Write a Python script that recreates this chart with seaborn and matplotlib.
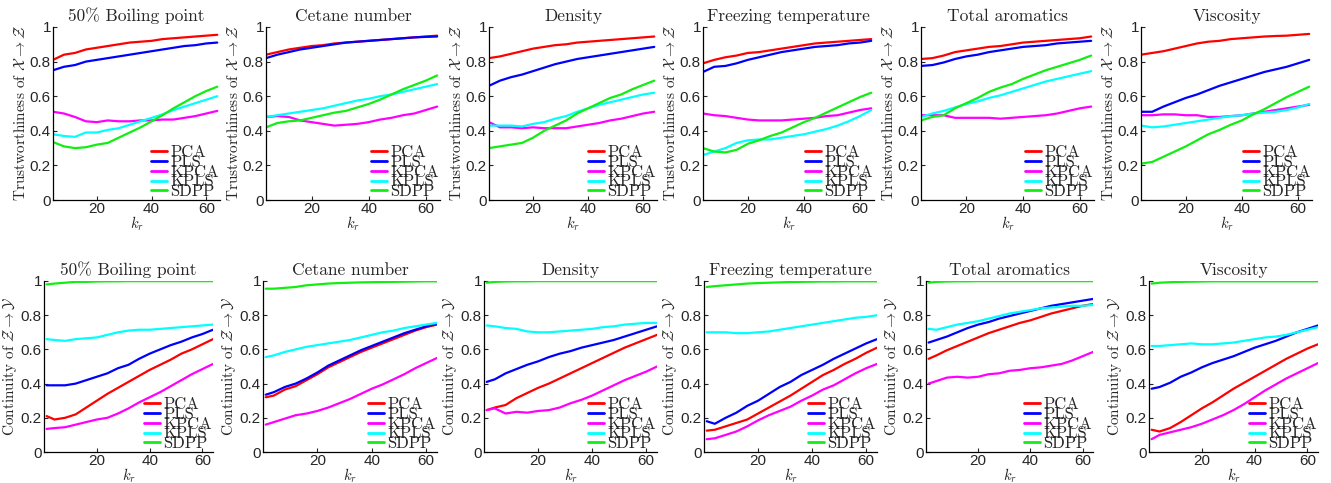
import pandas as pd
import matplotlib
matplotlib.use("Agg")
import matplotlib.pyplot as plt
import seaborn as sns

methods = ["PCA", "PLS", "KPCA", "KPLS", "SDPP"]
colors = ["#ff0000", "#0000ff", "#ff00ff", "#00ffff", "#11ee11"]
titles = ["50% Boiling point", "Cetane number", "Density",
          "Freezing temperature", "Total aromatics", "Viscosity"]

# neighbourhood sizes k_r
top_k = [4, 8, 12, 16, 20, 24, 28, 32, 36, 40, 44, 48, 52, 56, 60, 64]
bottom_k = [1, 4, 8, 12, 16, 20, 24, 28, 32, 36, 40, 44, 48, 52, 56, 60, 64]

# trustworthiness X -> Z
tw_boiling = {
    "PCA":  [0.81, 0.84, 0.85, 0.87, 0.88, 0.89, 0.90, 0.91, 0.915, 0.92, 0.93, 0.935, 0.94, 0.945, 0.95, 0.955],
    "PLS":  [0.75, 0.77, 0.78, 0.80, 0.81, 0.82, 0.83, 0.84, 0.85, 0.86, 0.87, 0.88, 0.89, 0.895, 0.905, 0.91],
    "KPCA": [0.51, 0.50, 0.48, 0.455, 0.45, 0.46, 0.455, 0.455, 0.46, 0.46, 0.465, 0.465, 0.475, 0.485, 0.50, 0.515],
    "KPLS": [0.38, 0.37, 0.365, 0.39, 0.39, 0.405, 0.415, 0.435, 0.455, 0.475, 0.495, 0.52, 0.54, 0.56, 0.58, 0.60],
    "SDPP": [0.335, 0.31, 0.30, 0.305, 0.32, 0.33, 0.36, 0.39, 0.42, 0.455, 0.49, 0.53, 0.565, 0.60, 0.63, 0.655],
}
tw_cetane = {
    "PCA":  [0.84, 0.855, 0.87, 0.88, 0.89, 0.895, 0.905, 0.91, 0.915, 0.92, 0.925, 0.93, 0.935, 0.94, 0.945, 0.95],
    "PLS":  [0.82, 0.84, 0.855, 0.87, 0.88, 0.89, 0.90, 0.91, 0.915, 0.92, 0.925, 0.93, 0.935, 0.94, 0.943, 0.945],
    "KPCA": [0.48, 0.485, 0.48, 0.46, 0.45, 0.44, 0.43, 0.435, 0.44, 0.45, 0.465, 0.475, 0.49, 0.50, 0.52, 0.54],
    "KPLS": [0.48, 0.49, 0.50, 0.51, 0.52, 0.53, 0.545, 0.56, 0.575, 0.585, 0.60, 0.61, 0.625, 0.64, 0.655, 0.67],
    "SDPP": [0.42, 0.445, 0.455, 0.46, 0.475, 0.49, 0.505, 0.515, 0.535, 0.555, 0.58, 0.61, 0.64, 0.665, 0.69, 0.72],
}
tw_density = {
    "PCA":  [0.82, 0.83, 0.845, 0.86, 0.875, 0.885, 0.895, 0.90, 0.91, 0.915, 0.92, 0.925, 0.93, 0.935, 0.94, 0.945],
    "PLS":  [0.66, 0.69, 0.71, 0.725, 0.745, 0.765, 0.785, 0.80, 0.815, 0.825, 0.835, 0.845, 0.855, 0.865, 0.875, 0.885],
    "KPCA": [0.45, 0.42, 0.42, 0.415, 0.42, 0.415, 0.415, 0.415, 0.425, 0.435, 0.445, 0.46, 0.47, 0.485, 0.50, 0.51],
    "KPLS": [0.43, 0.43, 0.43, 0.425, 0.44, 0.45, 0.47, 0.485, 0.51, 0.53, 0.55, 0.565, 0.58, 0.595, 0.61, 0.62],
    "SDPP": [0.30, 0.31, 0.32, 0.33, 0.36, 0.40, 0.43, 0.46, 0.50, 0.53, 0.56, 0.59, 0.61, 0.64, 0.665, 0.69],
}
tw_freezing = {
    "PCA":  [0.79, 0.81, 0.825, 0.835, 0.85, 0.855, 0.865, 0.875, 0.885, 0.895, 0.905, 0.91, 0.915, 0.92, 0.925, 0.93],
    "PLS":  [0.74, 0.77, 0.775, 0.79, 0.81, 0.825, 0.84, 0.855, 0.865, 0.875, 0.885, 0.89, 0.895, 0.905, 0.91, 0.92],
    "KPCA": [0.50, 0.49, 0.485, 0.475, 0.465, 0.46, 0.46, 0.46, 0.465, 0.47, 0.475, 0.485, 0.49, 0.505, 0.52, 0.53],
    "KPLS": [0.26, 0.28, 0.30, 0.33, 0.345, 0.35, 0.35, 0.36, 0.37, 0.38, 0.395, 0.41, 0.43, 0.455, 0.485, 0.52],
    "SDPP": [0.30, 0.28, 0.275, 0.29, 0.325, 0.345, 0.37, 0.39, 0.42, 0.45, 0.475, 0.505, 0.535, 0.565, 0.595, 0.62],
}
tw_aromatics = {
    "PCA":  [0.815, 0.82, 0.835, 0.855, 0.865, 0.875, 0.885, 0.89, 0.90, 0.91, 0.915, 0.92, 0.925, 0.93, 0.935, 0.945],
    "PLS":  [0.775, 0.78, 0.795, 0.815, 0.83, 0.84, 0.855, 0.865, 0.875, 0.885, 0.89, 0.895, 0.905, 0.91, 0.915, 0.92],
    "KPCA": [0.49, 0.49, 0.49, 0.475, 0.475, 0.475, 0.475, 0.47, 0.475, 0.48, 0.485, 0.49, 0.50, 0.515, 0.53, 0.54],
    "KPLS": [0.48, 0.50, 0.515, 0.535, 0.555, 0.57, 0.59, 0.605, 0.625, 0.645, 0.665, 0.685, 0.70, 0.715, 0.73, 0.745],
    "SDPP": [0.46, 0.48, 0.49, 0.53, 0.56, 0.59, 0.625, 0.65, 0.67, 0.70, 0.725, 0.75, 0.77, 0.79, 0.81, 0.835],
}
tw_viscosity = {
    "PCA":  [0.84, 0.85, 0.86, 0.875, 0.89, 0.905, 0.915, 0.92, 0.93, 0.935, 0.94, 0.945, 0.948, 0.95, 0.955, 0.96],
    "PLS":  [0.51, 0.51, 0.54, 0.565, 0.59, 0.61, 0.635, 0.66, 0.68, 0.70, 0.72, 0.74, 0.755, 0.77, 0.79, 0.81],
    "KPCA": [0.49, 0.49, 0.495, 0.495, 0.49, 0.49, 0.48, 0.48, 0.485, 0.49, 0.50, 0.51, 0.52, 0.53, 0.54, 0.55],
    "KPLS": [0.43, 0.42, 0.425, 0.435, 0.445, 0.455, 0.465, 0.475, 0.485, 0.49, 0.50, 0.505, 0.51, 0.52, 0.535, 0.555],
    "SDPP": [0.21, 0.22, 0.25, 0.28, 0.31, 0.345, 0.38, 0.405, 0.435, 0.46, 0.495, 0.525, 0.56, 0.595, 0.625, 0.655],
}

# continuity Z -> Y
ct_boiling = {
    "PCA":  [0.21, 0.19, 0.20, 0.22, 0.26, 0.30, 0.34, 0.375, 0.41, 0.445, 0.48, 0.51, 0.54, 0.575, 0.60, 0.63, 0.66],
    "PLS":  [0.39, 0.39, 0.39, 0.40, 0.42, 0.44, 0.46, 0.49, 0.51, 0.545, 0.575, 0.60, 0.625, 0.645, 0.67, 0.69, 0.715],
    "KPCA": [0.135, 0.14, 0.145, 0.16, 0.175, 0.19, 0.20, 0.225, 0.255, 0.29, 0.32, 0.35, 0.385, 0.42, 0.455, 0.485, 0.515],
    "KPLS": [0.66, 0.655, 0.65, 0.66, 0.665, 0.67, 0.685, 0.70, 0.71, 0.715, 0.715, 0.72, 0.725, 0.73, 0.735, 0.74, 0.745],
    "SDPP": [0.98, 0.985, 0.99, 0.995, 0.995, 0.997, 0.998, 0.998, 0.999, 0.999, 0.999, 0.999, 0.999, 0.999, 0.999, 0.999, 0.999],
}
ct_cetane = {
    "PCA":  [0.32, 0.33, 0.365, 0.385, 0.42, 0.455, 0.495, 0.525, 0.555, 0.585, 0.61, 0.635, 0.66, 0.685, 0.71, 0.73, 0.745],
    "PLS":  [0.335, 0.35, 0.38, 0.40, 0.43, 0.465, 0.505, 0.535, 0.565, 0.595, 0.62, 0.645, 0.67, 0.695, 0.715, 0.735, 0.75],
    "KPCA": [0.16, 0.175, 0.195, 0.215, 0.225, 0.24, 0.26, 0.285, 0.31, 0.34, 0.37, 0.395, 0.425, 0.455, 0.49, 0.52, 0.55],
    "KPLS": [0.555, 0.565, 0.585, 0.60, 0.615, 0.625, 0.635, 0.645, 0.655, 0.67, 0.685, 0.70, 0.71, 0.725, 0.735, 0.745, 0.755],
    "SDPP": [0.955, 0.955, 0.96, 0.965, 0.975, 0.98, 0.985, 0.988, 0.99, 0.992, 0.993, 0.994, 0.995, 0.996, 0.997, 0.998, 0.998],
}
ct_density = {
    "PCA":  [0.245, 0.26, 0.275, 0.315, 0.345, 0.375, 0.40, 0.43, 0.46, 0.49, 0.52, 0.55, 0.58, 0.61, 0.635, 0.66, 0.685],
    "PLS":  [0.41, 0.425, 0.46, 0.485, 0.51, 0.53, 0.555, 0.575, 0.59, 0.61, 0.625, 0.64, 0.655, 0.675, 0.695, 0.715, 0.735],
    "KPCA": [0.245, 0.255, 0.225, 0.235, 0.23, 0.24, 0.245, 0.26, 0.285, 0.305, 0.33, 0.36, 0.39, 0.42, 0.445, 0.47, 0.50],
    "KPLS": [0.74, 0.735, 0.725, 0.72, 0.705, 0.70, 0.70, 0.705, 0.71, 0.715, 0.72, 0.73, 0.735, 0.745, 0.75, 0.755, 0.755],
    "SDPP": [0.99, 0.995, 0.997, 0.998, 0.998, 0.999, 0.999, 0.999, 0.999, 0.999, 0.999, 0.999, 0.999, 0.999, 0.999, 0.999, 0.999],
}
ct_freezing = {
    "PCA":  [0.125, 0.13, 0.15, 0.17, 0.19, 0.225, 0.26, 0.295, 0.33, 0.37, 0.41, 0.45, 0.48, 0.515, 0.545, 0.58, 0.61],
    "PLS":  [0.18, 0.165, 0.20, 0.23, 0.27, 0.30, 0.34, 0.38, 0.41, 0.45, 0.48, 0.51, 0.545, 0.575, 0.605, 0.635, 0.66],
    "KPCA": [0.075, 0.08, 0.10, 0.12, 0.15, 0.185, 0.215, 0.24, 0.265, 0.30, 0.33, 0.365, 0.39, 0.425, 0.46, 0.49, 0.515],
    "KPLS": [0.70, 0.70, 0.70, 0.695, 0.695, 0.70, 0.705, 0.715, 0.725, 0.735, 0.745, 0.755, 0.765, 0.775, 0.785, 0.79, 0.80],
    "SDPP": [0.965, 0.97, 0.975, 0.98, 0.985, 0.988, 0.99, 0.992, 0.994, 0.995, 0.996, 0.997, 0.997, 0.998, 0.998, 0.998, 0.998],
}
ct_aromatics = {
    "PCA":  [0.545, 0.565, 0.595, 0.62, 0.645, 0.67, 0.695, 0.715, 0.735, 0.755, 0.77, 0.79, 0.81, 0.825, 0.84, 0.855, 0.865],
    "PLS":  [0.64, 0.655, 0.675, 0.70, 0.725, 0.745, 0.76, 0.78, 0.795, 0.81, 0.825, 0.84, 0.855, 0.865, 0.875, 0.885, 0.895],
    "KPCA": [0.40, 0.415, 0.435, 0.44, 0.435, 0.44, 0.455, 0.46, 0.475, 0.48, 0.49, 0.495, 0.505, 0.515, 0.535, 0.56, 0.585],
    "KPLS": [0.72, 0.715, 0.73, 0.745, 0.755, 0.765, 0.78, 0.795, 0.81, 0.82, 0.83, 0.84, 0.845, 0.85, 0.855, 0.855, 0.86],
    "SDPP": [0.99, 0.995, 0.997, 0.998, 0.998, 0.999, 0.999, 0.999, 0.999, 0.999, 0.999, 0.999, 0.999, 0.999, 0.999, 0.999, 0.999],
}
ct_viscosity = {
    "PCA":  [0.13, 0.12, 0.14, 0.175, 0.215, 0.255, 0.29, 0.33, 0.37, 0.405, 0.44, 0.475, 0.51, 0.545, 0.575, 0.605, 0.63],
    "PLS":  [0.37, 0.38, 0.405, 0.44, 0.465, 0.495, 0.52, 0.54, 0.56, 0.585, 0.61, 0.63, 0.65, 0.675, 0.70, 0.72, 0.74],
    "KPCA": [0.075, 0.10, 0.115, 0.13, 0.145, 0.165, 0.19, 0.215, 0.245, 0.28, 0.32, 0.36, 0.395, 0.43, 0.46, 0.49, 0.52],
    "KPLS": [0.62, 0.62, 0.625, 0.63, 0.635, 0.63, 0.63, 0.635, 0.64, 0.65, 0.66, 0.67, 0.675, 0.685, 0.70, 0.715, 0.73],
    "SDPP": [0.985, 0.99, 0.993, 0.995, 0.996, 0.997, 0.998, 0.998, 0.998, 0.998, 0.998, 0.998, 0.998, 0.998, 0.998, 0.998, 0.998],
}

top_panels = [tw_boiling, tw_cetane, tw_density, tw_freezing, tw_aromatics, tw_viscosity]
bottom_panels = [ct_boiling, ct_cetane, ct_density, ct_freezing, ct_aromatics, ct_viscosity]

sns.set_theme(style="ticks")
plt.rcParams["font.family"] = ["Liberation Sans", "DejaVu Sans"]
plt.rcParams["mathtext.fontset"] = "cm"
plt.rcParams["xtick.direction"] = "in"
plt.rcParams["ytick.direction"] = "in"

W, H = 1331, 483
fig = plt.figure(figsize=(W / 100, H / 100), dpi=100)

# pixel boxes (left, right) of each panel, plus top/bottom of each row
top_lr = [(53, 220), (266, 440), (489, 657), (703, 874), (921, 1094), (1141, 1312)]
bot_lr = [(44, 213), (263, 437), (484, 657), (704, 877), (926, 1093), (1149, 1318)]
top_tb = (27, 200)
bot_tb = (281, 452)

serif = "cmr10"


def draw_panel(ax, k, panel, title, ylabel, xlim):
    rows = []
    for m in methods:
        for kk, v in zip(k, panel[m]):
            rows.append({"k": kk, "value": v, "method": m})
    df = pd.DataFrame(rows)
    sns.lineplot(data=df, x="k", y="value", hue="method", hue_order=methods,
                 palette=colors, linewidth=1.6, ax=ax, legend=True)
    ax.set_xlim(*xlim)
    ax.set_ylim(0, 1)
    ax.set_xticks([20, 40, 60])
    ax.set_yticks([0, 0.2, 0.4, 0.6, 0.8, 1])
    ax.set_yticklabels(["0", "0.2", "0.4", "0.6", "0.8", "1"])
    ax.tick_params(labelsize=11, length=3, width=0.8, pad=1.5)
    for s in ["top", "right"]:
        ax.spines[s].set_visible(False)
    for s in ["left", "bottom"]:
        ax.spines[s].set_linewidth(0.9)
        ax.spines[s].set_color("black")
    ax.set_title(title, fontsize=12.5, fontfamily=serif, pad=4)
    ax.set_xlabel(r"$k_r$", fontsize=10.5, labelpad=-1)
    ax.set_ylabel(ylabel, fontsize=11, fontfamily=serif, labelpad=1)
    leg = ax.legend(loc="lower right", frameon=False,
                    labelspacing=-0.33, handlelength=1.0, handletextpad=0.2,
                    borderaxespad=0.0, borderpad=0.05,
                    prop={"family": serif, "size": 12})
    for line in leg.get_lines():
        line.set_linewidth(2.0)


for i in range(6):
    l, r = top_lr[i]
    t, b = top_tb
    ax = fig.add_axes([l / W, 1 - b / H, (r - l) / W, (b - t) / H])
    draw_panel(ax, top_k, top_panels[i], titles[i],
               r"Trustworthiness of $\mathcal{X}\rightarrow\mathcal{Z}$", (4, 65))

    l, r = bot_lr[i]
    t, b = bot_tb
    ax = fig.add_axes([l / W, 1 - b / H, (r - l) / W, (b - t) / H])
    draw_panel(ax, bottom_k, bottom_panels[i], titles[i],
               r"Continuity of $\mathcal{Z}\rightarrow\mathcal{Y}$", (0, 64))

fig.savefig("out.png", dpi=100)
